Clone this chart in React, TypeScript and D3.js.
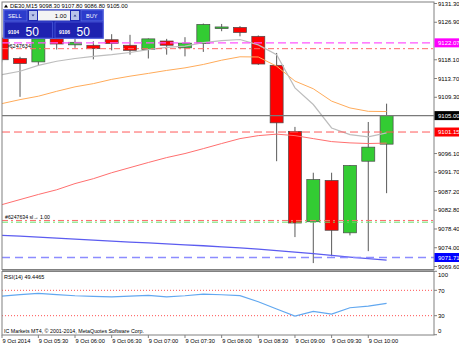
import React from 'react';
import * as d3 from 'd3';

// ---- data ----
const opens = [9123.2, 9118.4, 9117.6, 9123.0, 9121.6, 9121.5, 9122.8, 9121.5, 9120.5, 9122.5, 9120.9, 9121.9, 9125.4, 9125.7, 9123.6, 9116.8, 9101.3, 9080.1, 9089.8, 9077.5, 9094.3, 9098.3];
const highs = [9124.0, 9118.8, 9125.5, 9124.2, 9123.1, 9122.45, 9124.1, 9123.95, 9123.1, 9123.0, 9123.4, 9126.6, 9126.5, 9126.0, 9123.8, 9119.7, 9102.35, 9091.6, 9091.6, 9093.4, 9103.5, 9107.8];
const lows = [9117.5, 9109.4, 9116.8, 9120.5, 9120.9, 9118.2, 9120.3, 9119.3, 9118.4, 9119.3, 9118.9, 9119.95, 9124.8, 9123.6, 9116.9, 9094.3, 9076.5, 9070.4, 9072.0, 9076.9, 9073.2, 9086.8];
const closes = [9118.1, 9117.2, 9123.0, 9121.8, 9122.2, 9120.7, 9121.9, 9120.3, 9123.0, 9121.5, 9122.0, 9126.4, 9125.8, 9124.5, 9117.1, 9103.3, 9079.8, 9090.0, 9078.1, 9093.3, 9097.6, 9105.0];

const maGray = [9114.6, 9115.4, 9116.8, 9117.75, 9118.4, 9118.9, 9119.3, 9119.8, 9120.5, 9121.0, 9121.3, 9122.1, 9122.6, 9122.85, 9121.6, 9119.3, 9111.5, 9107.6, 9102.1, 9100.55, 9100.0, 9100.95];
const maOrange = [9107.8, 9108.75, 9109.55, 9110.7, 9111.75, 9112.5, 9113.5, 9114.25, 9114.9, 9115.6, 9116.2, 9117.0, 9118.0, 9118.8, 9118.75, 9116.6, 9113.1, 9111.3, 9108.4, 9106.8, 9106.0, 9105.95];
const maRed = [9084.1, 9085.3, 9086.5, 9087.6, 9089.05, 9090.2, 9091.6, 9092.8, 9094.0, 9095.15, 9096.1, 9097.25, 9098.45, 9099.6, 9100.3, 9100.65, 9100.3, 9099.6, 9098.9, 9098.6, 9098.45, 9098.55];
const maBlue = [9076.91, 9076.72, 9076.49, 9076.25, 9076.02, 9075.78, 9075.55, 9075.31, 9075.12, 9074.89, 9074.68, 9074.47, 9074.21, 9073.98, 9073.67, 9073.32, 9072.97, 9072.61, 9072.22, 9071.79, 9071.44, 9071.09];

const rsiValues = [60.9, 63.3, 65.2, 63.3, 61.4, 60.5, 59.8, 60.9, 62.0, 59.8, 61.4, 64.1, 63.0, 61.7, 52.0, 40.5, 29.4, 36.9, 32.6, 42.5, 45.2, 49.4465];

const priceTicks = ['9131.30', '9126.90', '9118.10', '9113.70', '9109.30', '9096.10', '9091.70', '9087.20', '9082.80', '9078.40', '9074.00', '9069.60'];
const rsiTicks = [100, 70, 30, 0];
const timeLabels = ['9 Oct 2014', '9 Oct 05:30', '9 Oct 06:00', '9 Oct 06:30', '9 Oct 07:00', '9 Oct 07:30', '9 Oct 08:00', '9 Oct 08:30', '9 Oct 09:00', '9 Oct 09:30', '9 Oct 10:00'];
const timeLabelIndex = [0, 2, 4, 6, 8, 10, 12, 14, 16, 18, 20];

const pendingLevel = 9122.07;
const slLevelTop = 9120.7;
const bidLevel = 9105.0;
const openLevel = 9101.15;
const slLevelRed = 9080.4;
const slLevelGreen = 9080.0;
const lowLevel = 9071.71;

const title = 'DE30,M15  9098.30 9107.80 9086.80 9105.00';
const rsiTitle = 'RSI(14) 49.4465';
const copyright = 'IC Markets MT4, \u00a9 2001-2014, MetaQuotes Software Corp.';

export default function App() {
  const W = 459, H = 345;
  const left = 2, right = 434, mainTop = 2, mainBottom = 269.5, rsiTop = 271.5, rsiBottom = 335;
  const n = opens.length;
  const x = d3.scaleLinear().domain([0, n - 1]).range([1.7, 386.6]);
  const y = d3.scaleLinear().domain([9069.6, 9131.3]).range([266.5, 3.5]);
  const yr = d3.scaleLinear().domain([0, 100]).range([334.7, 271.3]);
  const font = 'Liberation Sans, Arial, sans-serif';
  const line = (arr: number[]) => d3.line<number>().x((_, i) => x(i)).y((d) => y(d))(arr) || '';
  const rsiLine = d3.line<number>().x((_, i) => x(i)).y((d) => yr(d))(rsiValues) || '';
  const bw = 13;

  const hLine = (p: number, color: string, dash: string | undefined, sw = 1) => (
    <line x1={left} x2={right} y1={y(p)} y2={y(p)} stroke={color} strokeWidth={sw} strokeDasharray={dash} />
  );
  const tag = (p: number, bg: string, fg: string) => (
    <g>
      <rect x={right + 0.5} y={y(p) - 4.5} width={W - right} height={9} fill={bg} />
      <text x={438} y={y(p) + 2.2} fontSize={6} fill={fg} fontFamily={font}>{p.toFixed(2)}</text>
    </g>
  );

  return (
    <svg width={W} height={H} style={{ position: 'fixed', left: 0, top: 0, background: '#fff' }}>
      <defs>
        <clipPath id="mainclip"><rect x={left} y={mainTop} width={right - left} height={mainBottom - mainTop} /></clipPath>
        <clipPath id="rsiclip"><rect x={left} y={rsiTop} width={right - left} height={rsiBottom - rsiTop} /></clipPath>
      </defs>
      <rect x={0} y={0} width={W} height={H} fill="#fff" />

      {/* main pane */}
      <g clipPath="url(#mainclip)">
        <text x={6.5} y={48} fontSize={5.5} fill="#000" fontFamily={font}>#6247634</text>
        <text x={5} y={219} fontSize={5.2} fill="#000" fontFamily={font}>#6247634 sl→ 1.00</text>
        {opens.map((o, i) => {
          const c = closes[i];
          const up = c >= o;
          const top = y(Math.max(o, c));
          const bot = y(Math.min(o, c));
          return (
            <g key={i}>
              <line x1={x(i)} x2={x(i)} y1={y(highs[i])} y2={y(lows[i])} stroke="#5a5a5a" strokeWidth={1} />
              <rect x={x(i) - bw / 2} y={top} width={bw} height={Math.max(1, bot - top)} fill={up ? '#33cc33' : '#ff0000'} stroke="#4a4a4a" strokeWidth={0.7} />
            </g>
          );
        })}
        <path d={line(maBlue)} fill="none" stroke="#5c5cf0" strokeWidth={1.3} />
        <path d={line(maRed)} fill="none" stroke="#ff6f6f" strokeWidth={1} />
        <path d={line(maOrange)} fill="none" stroke="#ffab5a" strokeWidth={1} />
        <path d={line(maGray)} fill="none" stroke="#bdbdbd" strokeWidth={1.2} />
        {hLine(pendingLevel, '#ff55ff', '8,4', 1.3)}
        {hLine(slLevelTop, '#ff6a6a', '6,3,2,3', 1)}
        {hLine(bidLevel, '#7a7a7a', undefined, 1.2)}
        {hLine(openLevel, '#ff5a5a', '8,4', 1)}
        {hLine(slLevelRed, '#ff6a6a', '6,3,2,3', 1)}
        {hLine(slLevelGreen, '#66dd66', '6,3,2,3', 1)}
        {hLine(lowLevel, '#8c8cff', '8,5', 1.5)}
      </g>

      {/* RSI pane */}
      <g clipPath="url(#rsiclip)">
        <line x1={left} x2={right} y1={yr(70)} y2={yr(70)} stroke="#ff5050" strokeWidth={1} strokeDasharray="1,2" />
        <line x1={left} x2={right} y1={yr(30)} y2={yr(30)} stroke="#ff5050" strokeWidth={1} strokeDasharray="1,2" />
        <path d={rsiLine} fill="none" stroke="#62a8f0" strokeWidth={1.2} />
        <text x={4} y={278.5} fontSize={5.5} fill="#000" fontFamily={font}>{rsiTitle}</text>
        <text x={4} y={332.5} fontSize={5.3} fill="#000" fontFamily={font}>{copyright}</text>
      </g>

      {/* frames */}
      <rect x={left} y={mainTop} width={right - left} height={mainBottom - mainTop} fill="none" stroke="#808080" strokeWidth={1} />
      <line x1={left} x2={right} y1={mainBottom + 0.5} y2={mainBottom + 0.5} stroke="#808080" strokeWidth={1.5} />
      <rect x={left} y={rsiTop} width={right - left} height={rsiBottom - rsiTop} fill="none" stroke="#808080" strokeWidth={1} />

      {/* price axis */}
      {priceTicks.map((t) => (
        <g key={t}>
          <line x1={right} x2={right + 3} y1={y(+t)} y2={y(+t)} stroke="#808080" />
          <text x={438} y={y(+t) + 2.2} fontSize={6} fill="#000" fontFamily={font}>{t}</text>
        </g>
      ))}
      {tag(pendingLevel, '#ff00ff', '#fff')}
      {tag(bidLevel, '#000', '#fff')}
      {tag(openLevel, '#ff0000', '#fff')}
      {tag(lowLevel, '#0000ff', '#fff')}

      {/* rsi axis */}
      {rsiTicks.map((t) => {
        const yy = Math.max(rsiTop + 3, Math.min(rsiBottom - 4.5, yr(t)));
        return (
          <g key={t}>
            <line x1={right} x2={right + 3} y1={yr(t)} y2={yr(t)} stroke="#808080" />
            <text x={438} y={yy + 2.2} fontSize={6} fill="#000" fontFamily={font}>{t}</text>
          </g>
        );
      })}

      {/* time axis */}
      {timeLabels.map((t, k) => {
        const xx = x(timeLabelIndex[k]);
        return (
          <g key={t}>
            <line x1={Math.max(xx, left)} x2={Math.max(xx, left)} y1={rsiBottom} y2={rsiBottom + 3} stroke="#808080" />
            <text x={Math.max(xx, left) + 0.5} y={342.5} fontSize={5.7} fill="#000" fontFamily={font}>{t}</text>
          </g>
        );
      })}

      {/* title */}
      <path d="M4,7.5 L6,4.5 L8,7.5 Z" fill="#000" />
      <text x={10} y={8} fontSize={5.8} fill="#000" fontFamily={font}>{title}</text>

      {/* one-click trading panel */}
      <g fontFamily={font}>
        <rect x={3.5} y={9.5} width={100} height={29} fill="#1c28b4" stroke="#5968dc" strokeWidth={0.8} />
        <rect x={4} y={10} width={23} height={11} fill="#2c3ccc" stroke="#6b7ae8" strokeWidth={0.6} />
        <text x={8} y={18.2} fontSize={5.5} fill="#fff">SELL</text>
        <rect x={29} y={11} width={8} height={9} fill="#b8c2ea" />
        <path d="M31.5,14.5 L34.5,14.5 L33,16.5 Z" fill="#33408c" />
        <rect x={38} y={10.5} width={32} height={10} fill="#f4f4f4" />
        <text x={66.5} y={18.2} fontSize={6} fill="#000" textAnchor="end">1.00</text>
        <rect x={71} y={11} width={8} height={9} fill="#b8c2ea" />
        <path d="M73.5,16.5 L76.5,16.5 L75,14.5 Z" fill="#33408c" />
        <rect x={81} y={10} width={22} height={11} fill="#2c3ccc" stroke="#6b7ae8" strokeWidth={0.6} />
        <text x={86} y={18.2} fontSize={5.5} fill="#fff">BUY</text>
        <rect x={4.5} y={22} width={48} height={16} fill="#1e22b0" stroke="#4d5ce0" strokeWidth={0.7} />
        <text x={8} y={33.5} fontSize={5} fontWeight="bold" fill="#fff">9104</text>
        <text x={25.5} y={36} fontSize={12} fill="#fff">50</text>
        <rect x={55} y={22} width={48} height={16} fill="#1e22b0" stroke="#4d5ce0" strokeWidth={0.7} />
        <text x={59} y={33.5} fontSize={5} fontWeight="bold" fill="#fff">9106</text>
        <text x={76.5} y={36} fontSize={12} fill="#fff">50</text>
      </g>
    </svg>
  );
}
